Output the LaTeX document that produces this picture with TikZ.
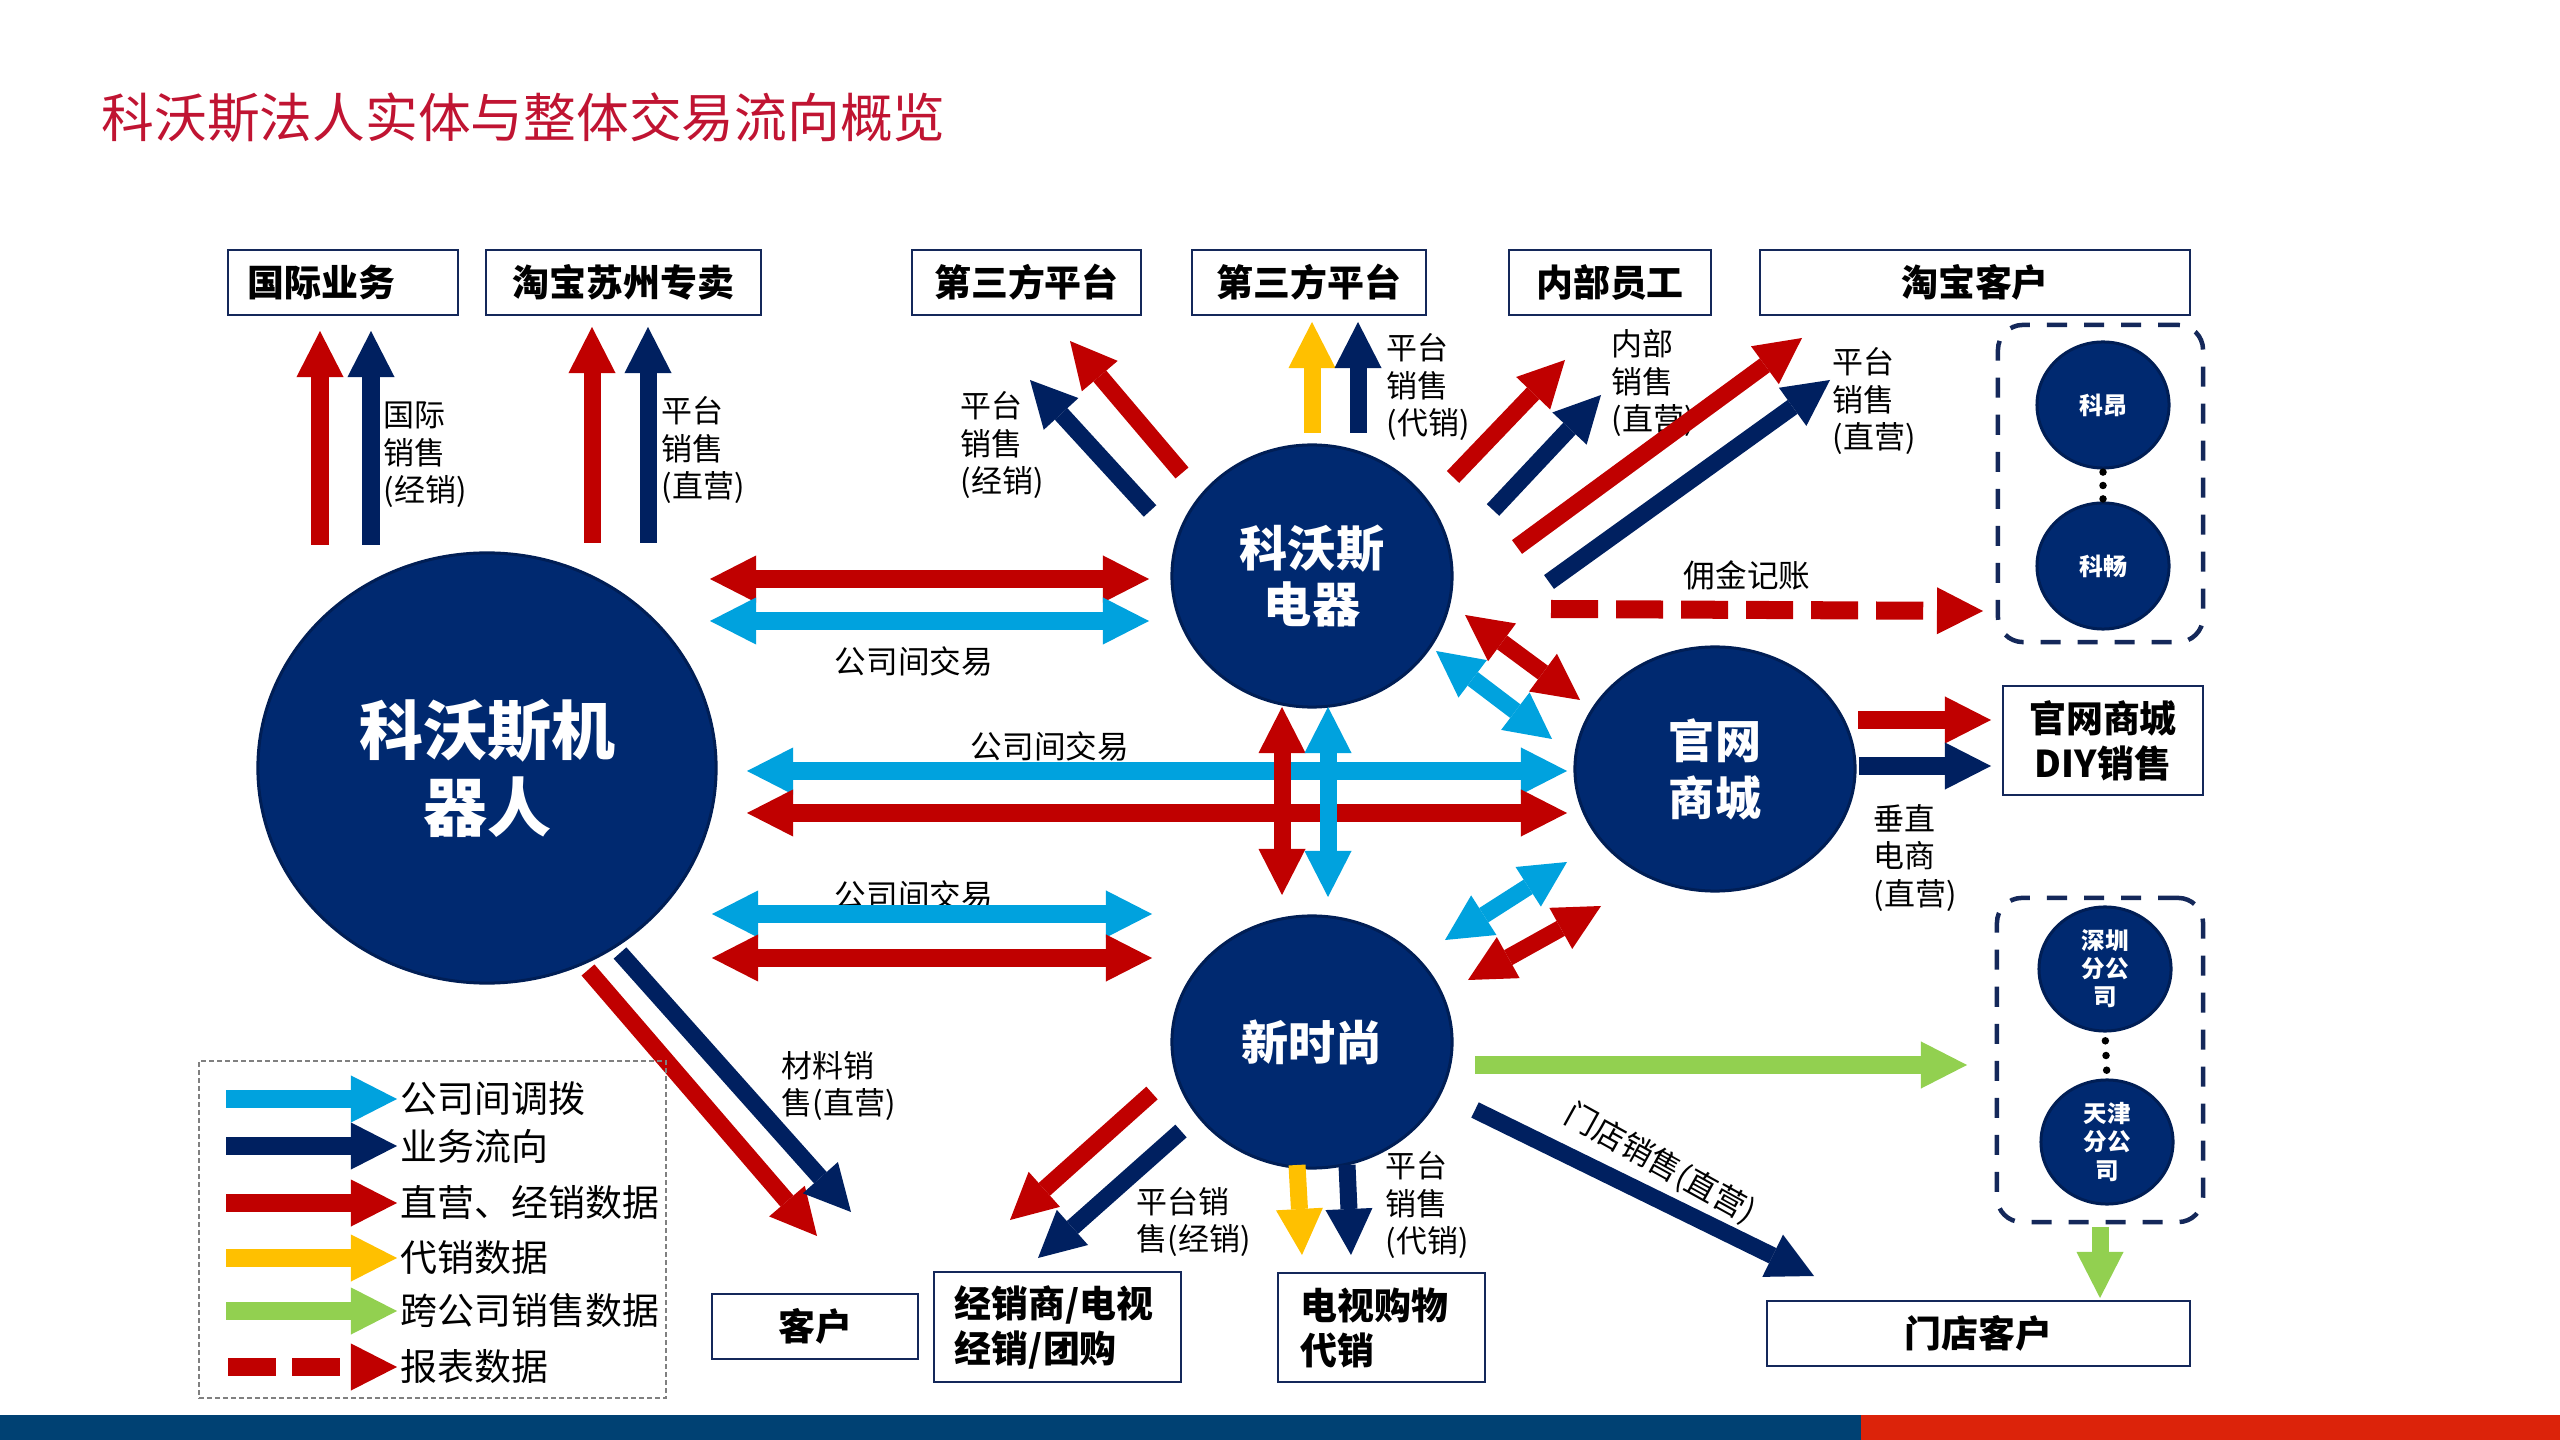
\documentclass[tikz,border=0pt]{standalone}
\usepackage{fontspec}
\setmainfont{Noto Sans CJK SC}
\usetikzlibrary{arrows.meta,shapes.geometric}
\definecolor{tred}{RGB}{192,20,50}
\definecolor{ared}{RGB}{192,0,0}
\definecolor{anavy}{RGB}{0,32,96}
\definecolor{ablue}{RGB}{0,162,222}
\definecolor{ayellow}{RGB}{255,192,0}
\definecolor{agreen}{RGB}{146,208,80}
\definecolor{cnavy}{RGB}{0,41,112}
\definecolor{cedge}{RGB}{0,30,85}
\definecolor{bnavy}{RGB}{20,40,90}
\definecolor{barblue}{RGB}{0,65,115}
\definecolor{barred}{RGB}{220,35,10}
\tikzset{
  bigtip/.tip={Triangle[width=4.7mm,length=4.6mm,line width=0pt]},
  arr/.style={line width=1.7mm,-bigtip},
  darr/.style={line width=1.7mm,bigtip-bigtip},
  circ/.style={ellipse,fill=cnavy,draw=cedge,line width=0.3mm,text=white,align=center,inner sep=0},
  box/.style={draw=bnavy,line width=0.25mm,fill=white,inner sep=0,align=center,minimum height=0.65cm,font=\bfseries\fontsize{10.5}{12.8}\selectfont},
  lbl/.style={anchor=west,inner sep=0,align=left,font=\fontsize{8.8}{10.7}\selectfont},
  clbl/.style={anchor=center,inner sep=0,font=\fontsize{9}{11}\selectfont},
  legtxt/.style={anchor=west,inner sep=0,font=\fontsize{10.5}{12}\selectfont},
  grp/.style={draw=bnavy,line width=0.45mm,dash pattern=on 2mm off 1.7mm,rounded corners=2.5mm,inner sep=0},
  dotc/.style={circle,fill=black,inner sep=0,minimum size=0.075cm}
}
\begin{document}
\begin{tikzpicture}[x=0.01cm,y=-0.01cm]
\fill[white] (0,0) rectangle (2560,1440);
\useasboundingbox (0,0) rectangle (2560,1440);

% title
\node[anchor=west,inner sep=0,text=tred,font=\fontsize{15}{18}\selectfont] (title) at (101,118) {科沃斯法人实体与整体交易流向概览};

% bottom bar
\fill[barblue] (0,1415) rectangle (1861,1440);
\fill[barred] (1861,1415) rectangle (2560,1440);

% top boxes
\node[box,text width=1.90cm,inner xsep=0.2cm,align=left] (intl) at (343,282.5) {国际业务};
\node[box,minimum width=2.75cm] (tbsz) at (623.5,282.5) {淘宝苏州专卖};
\node[box,minimum width=2.29cm] (dsf1) at (1026.5,282.5) {第三方平台};
\node[box,minimum width=2.34cm] (dsf2) at (1309,282.5) {第三方平台};
\node[box,minimum width=2.02cm] (nbyg) at (1610,282.5) {内部员工};
\node[box,minimum width=4.30cm] (tbkh) at (1975,282.5) {淘宝客户};
\node[box,minimum width=2.00cm,minimum height=1.09cm] (diy) at (2103,740.5) {官网商城\\DIY销售};
\node[box,minimum width=2.06cm] (kehu) at (815,1326.5) {客户};
\node[box,text width=2.05cm,inner xsep=0.21cm,align=left,minimum height=1.10cm] (jxs) at (1057.5,1327) {经销商/电视\\经销/团购};
\node[box,text width=1.61cm,inner xsep=0.23cm,align=left,minimum height=1.09cm] (dsgw) at (1381.5,1327.5) {电视购物\\代销};
\node[box,minimum width=4.23cm] (mdkh) at (1978.5,1333.5) {门店客户};

% groups
\node[grp,minimum width=2.05cm,minimum height=3.17cm] (g1) at (2100.5,483.5) {};
\node[grp,minimum width=2.06cm,minimum height=3.24cm] (g2) at (2100,1060) {};

% circles
\node[circ,minimum width=4.58cm,minimum height=4.30cm,font=\bfseries\fontsize{18.2}{21.9}\selectfont] (robot) at (487,768) {科沃斯机\\器人};
\node[circ,minimum width=2.80cm,minimum height=2.62cm,font=\bfseries\fontsize{13.7}{16.2}\selectfont] (dianqi) at (1312,576) {科沃斯\\电器};
\node[circ,minimum width=2.80cm,minimum height=2.44cm,font=\bfseries\fontsize{13.1}{16.2}\selectfont] (guanwang) at (1715,769) {官网\\商城};
\node[circ,minimum width=2.80cm,minimum height=2.52cm,font=\bfseries\fontsize{13.4}{16}\selectfont] (xss) at (1312,1042) {新时尚};
\node[circ,minimum width=1.32cm,minimum height=1.26cm,font=\bfseries\fontsize{6.8}{8}\selectfont] (kean) at (2103,405) {科昂};
\node[circ,minimum width=1.32cm,minimum height=1.26cm,font=\bfseries\fontsize{6.8}{8}\selectfont] (kechang) at (2103,566) {科畅};
\node[circ,minimum width=1.32cm,minimum height=1.24cm,font=\bfseries\fontsize{6.7}{8}\selectfont] (sz) at (2105,969) {深圳\\分公\\司};
\node[circ,minimum width=1.32cm,minimum height=1.24cm,font=\bfseries\fontsize{6.7}{8}\selectfont] (tj) at (2107,1142) {天津\\分公\\司};
\path (kean.south) -- (kechang.north) node[dotc,pos=0.08] (kd1) {} node[dotc,pos=0.5] (kd2) {} node[dotc,pos=0.92] (kd3) {};
\path (sz.south) -- (tj.north) node[dotc,pos=0.18] (sd1) {} node[dotc,pos=0.5] (sd2) {} node[dotc,pos=0.82] (sd3) {};

% labels
\node[lbl] (l1) at (383,455) {国际\\销售\\(经销)};
\node[lbl] (l2) at (661,450) {平台\\销售\\(直营)};
\node[lbl] (l3) at (960,445) {平台\\销售\\(经销)};
\node[lbl] (l4) at (1386,387) {平台\\销售\\(代销)};
\node[lbl] (l5) at (1611,383) {内部\\销售\\(直营)};
\node[lbl] (l6) at (1832,401) {平台\\销售\\(直营)};
\node[lbl] (l7) at (1873,858) {垂直\\电商\\(直营)};
\node[lbl] (l8) at (781,1086) {材料销\\售(直营)};
\node[lbl] (l9) at (1136,1222) {平台销\\售(经销)};
\node[lbl] (l10) at (1385,1205) {平台\\销售\\(代销)};
\node[clbl] (l11) at (1747,575) {佣金记账};
\node[clbl] (l12) at (914,661) {公司间交易};
\node[clbl] (l13) at (1050,746) {公司间交易};
\node[clbl] (l14) at (914,895) {公司间交易};
\node[clbl,rotate=-29] (l15) at (1660,1164) {门店销售(直营)};

% arrow end points
\coordinate (a1s) at (320,545); \coordinate (a1e) at (320,331);
\coordinate (a2s) at (371,545); \coordinate (a2e) at (371,331);
\coordinate (a3s) at (592,543); \coordinate (a3e) at (592,327);
\coordinate (a4s) at (648,543); \coordinate (a4e) at (648,327);
\coordinate (a5s) at (1182,473); \coordinate (a5e) at (1070,341);
\coordinate (a6s) at (1150,511); \coordinate (a6e) at (1030,380);
\coordinate (a7s) at (1312,433); \coordinate (a7e) at (1312,322);
\coordinate (a8s) at (1358,433); \coordinate (a8e) at (1358,322);
\coordinate (a9s) at (1453,477); \coordinate (a9e) at (1565,360);
\coordinate (a10s) at (1493,510); \coordinate (a10e) at (1601,395);
\coordinate (a11s) at (1517,547); \coordinate (a11e) at (1802,338);
\coordinate (a12s) at (1549,582); \coordinate (a12e) at (1830,380);
\coordinate (a13s) at (1551,609); \coordinate (a13e) at (1983,611);
\coordinate (d1s) at (710,579); \coordinate (d1e) at (1149,579);
\coordinate (d2s) at (710,621); \coordinate (d2e) at (1149,621);
\coordinate (d3s) at (747,771); \coordinate (d3e) at (1567,771);
\coordinate (d4s) at (747,813); \coordinate (d4e) at (1567,813);
\coordinate (d5s) at (712,914); \coordinate (d5e) at (1152,914);
\coordinate (d6s) at (712,958); \coordinate (d6e) at (1152,958);
\coordinate (v1s) at (1282,707); \coordinate (v1e) at (1282,895);
\coordinate (v2s) at (1328,707); \coordinate (v2e) at (1328,897);
\coordinate (e1s) at (1465,615); \coordinate (e1e) at (1580,700);
\coordinate (e2s) at (1436,651); \coordinate (e2e) at (1552,739);
\coordinate (e3s) at (1445,940); \coordinate (e3e) at (1567,862);
\coordinate (e4s) at (1468,980); \coordinate (e4e) at (1601,906);
\coordinate (r1s) at (1858,720); \coordinate (r1e) at (1991,720);
\coordinate (r2s) at (1859,766); \coordinate (r2e) at (1991,766);
\coordinate (b1s) at (588,970); \coordinate (b1e) at (817,1236);
\coordinate (b2s) at (620,953); \coordinate (b2e) at (851,1212);
\coordinate (b3s) at (1152,1093); \coordinate (b3e) at (1010,1220);
\coordinate (b4s) at (1181,1131); \coordinate (b4e) at (1038,1258);
\coordinate (b5s) at (1297,1165); \coordinate (b5e) at (1302,1255);
\coordinate (b6s) at (1347,1165); \coordinate (b6e) at (1351,1255);
\coordinate (g1s) at (1475,1065); \coordinate (g1e) at (1967,1065);
\coordinate (n1s) at (1475,1110); \coordinate (n1e) at (1814,1276);
\coordinate (g2s) at (2100,1227); \coordinate (g2e) at (2100,1298);

% arrows
\draw[arr,ared] (a1s) -- (a1e);
\draw[arr,anavy] (a2s) -- (a2e);
\draw[arr,ared] (a3s) -- (a3e);
\draw[arr,anavy] (a4s) -- (a4e);
\draw[arr,ared] (a5s) -- (a5e);
\draw[arr,anavy] (a6s) -- (a6e);
\draw[arr,ayellow] (a7s) -- (a7e);
\draw[arr,anavy] (a8s) -- (a8e);
\draw[arr,ared] (a9s) -- (a9e);
\draw[arr,anavy] (a10s) -- (a10e);
\draw[arr,ared] (a11s) -- (a11e);
\draw[arr,anavy] (a12s) -- (a12e);
\draw[arr,ared,line width=1.8mm,dash pattern=on 4.7mm off 1.8mm] (a13s) -- (a13e);
\draw[darr,ared] (d1s) -- (d1e);
\draw[darr,ablue] (d2s) -- (d2e);
\draw[darr,ablue] (d3s) -- (d3e);
\draw[darr,ared] (d4s) -- (d4e);
\draw[darr,ablue] (d5s) -- (d5e);
\draw[darr,ared] (d6s) -- (d6e);
\draw[darr,ared] (v1s) -- (v1e);
\draw[darr,ablue] (v2s) -- (v2e);
\draw[darr,ared] (e1s) -- (e1e);
\draw[darr,ablue] (e2s) -- (e2e);
\draw[darr,ablue] (e3s) -- (e3e);
\draw[darr,ared] (e4s) -- (e4e);
\draw[arr,ared] (r1s) -- (r1e);
\draw[arr,anavy] (r2s) -- (r2e);
\draw[arr,ared] (b1s) -- (b1e);
\draw[arr,anavy] (b2s) -- (b2e);
\draw[arr,ared] (b3s) -- (b3e);
\draw[arr,anavy] (b4s) -- (b4e);
\draw[arr,ayellow] (b5s) -- (b5e);
\draw[arr,anavy] (b6s) -- (b6e);
\draw[arr,agreen] (g1s) -- (g1e);
\draw[arr,anavy] (n1s) -- (n1e);
\draw[arr,agreen] (g2s) -- (g2e);

% legend
\node[draw=gray,line width=0.15mm,dash pattern=on 0.5mm off 0.3mm,inner sep=0,minimum width=4.67cm,minimum height=3.37cm] (legend) at (432.5,1229.5) {};
\coordinate (k1s) at (226,1099); \coordinate (k1e) at (397,1099);
\coordinate (k2s) at (226,1146); \coordinate (k2e) at (397,1146);
\coordinate (k3s) at (226,1203); \coordinate (k3e) at (397,1203);
\coordinate (k4s) at (226,1258); \coordinate (k4e) at (397,1258);
\coordinate (k5s) at (226,1311); \coordinate (k5e) at (397,1311);
\coordinate (k6s) at (228,1367); \coordinate (k6e) at (397,1367);
\draw[arr,ablue,line width=1.8mm] (k1s) -- (k1e);
\draw[arr,anavy,line width=1.8mm] (k2s) -- (k2e);
\draw[arr,ared,line width=1.8mm] (k3s) -- (k3e);
\draw[arr,ayellow,line width=1.8mm] (k4s) -- (k4e);
\draw[arr,agreen,line width=1.8mm] (k5s) -- (k5e);
\draw[arr,ared,line width=1.8mm,dash pattern=on 4.8mm off 1.6mm] (k6s) -- (k6e);
\node[legtxt] (t1) at (400,1099) {公司间调拨};
\node[legtxt] (t2) at (400,1146) {业务流向};
\node[legtxt] (t3) at (400,1203) {直营、经销数据};
\node[legtxt] (t4) at (400,1258) {代销数据};
\node[legtxt] (t5) at (400,1311) {跨公司销售数据};
\node[legtxt] (t6) at (400,1367) {报表数据};
\end{tikzpicture}
\end{document}
